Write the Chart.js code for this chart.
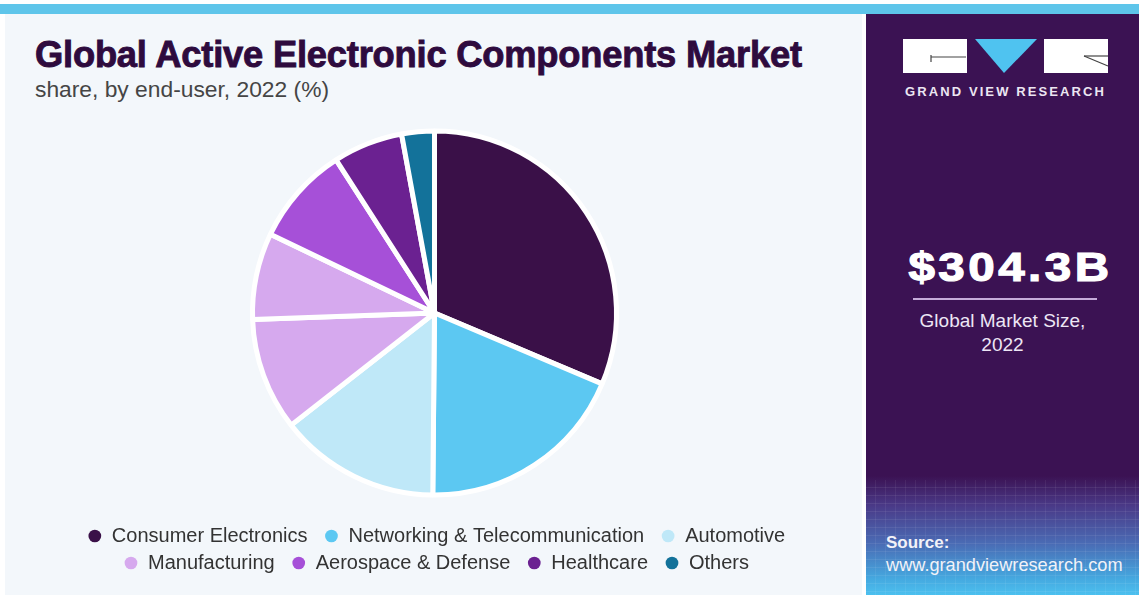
<!DOCTYPE html>
<html>
<head>
<meta charset="utf-8">
<script src="https://cdn.jsdelivr.net/npm/chart.js@4.4.1/dist/chart.umd.min.js"></script>
<style>
  html, body { margin:0; padding:0; width:1139px; height:595px; overflow:hidden; background:#ffffff; font-family:"Liberation Sans", Arial, sans-serif; }
  #topbar { position:absolute; left:0; top:4px; width:1139px; height:10px; background:#5ec5ea; }
  #left { position:absolute; left:5px; top:14px; width:857px; height:581px; background:#f3f7fb; }
  #right { position:absolute; left:866px; top:14px; width:273px; height:581px;
    background:
      repeating-linear-gradient(to bottom, rgba(255,255,255,0) 0, rgba(255,255,255,0) 7px, rgba(255,255,255,0.07) 7px, rgba(255,255,255,0.07) 8px),
      repeating-linear-gradient(to right, rgba(255,255,255,0) 0, rgba(255,255,255,0) 9px, rgba(255,255,255,0.06) 9px, rgba(255,255,255,0.06) 10px);
    background-size: 100% 115px, 100% 115px;
    background-position: 0 466px, 0 466px;
    background-repeat: no-repeat;
  }
  #rightbg { position:absolute; left:866px; top:14px; width:273px; height:581px;
    background: linear-gradient(to bottom, #3b1253 0px, #3b1253 462px, #4a3a88 492px, #4a6cb5 530px, #45a9e0 565px, #4cc0ef 581px); }
  #title { position:absolute; left:35px; top:34px; font-size:36.3px; font-weight:bold; color:#2e0b3e; letter-spacing:-0.2px; -webkit-text-stroke:0.9px #2e0b3e; white-space:nowrap; line-height:42px; }
  #subtitle { position:absolute; left:35px; top:77px; font-size:22.8px; color:#454545; white-space:nowrap; line-height:26px; transform:scaleY(0.95); transform-origin:left top; }
  #chartbox { position:absolute; left:47px; top:107px; width:775px; height:476px; }
  .rt { position:absolute; color:#ffffff; white-space:nowrap; text-align:center; }
  #brand { left:866px; width:273px; top:84px; font-size:13px; font-weight:bold; letter-spacing:2.1px; color:#ece6f2; padding-left:6px; box-sizing:border-box; }
  #big { left:874px; width:273px; top:243px; font-size:41px; font-weight:bold; letter-spacing:3px; -webkit-text-stroke:1.2px #fff; line-height:48px; transform:scaleX(1.16); }
  #rule { position:absolute; left:913px; top:298px; width:184px; height:2px; background:#c5acd9; }
  #gms { left:866px; width:273px; top:309px; font-size:19px; line-height:24px; color:#ede6f5; }
  #src1 { left:886px; top:533px; font-size:17px; font-weight:bold; text-align:left; line-height:20px; color:#f2f2f8; }
  #src2 { left:886px; top:555px; font-size:18.2px; text-align:left; line-height:20px; color:#f2f2f8; }
</style>
</head>
<body>
<div id="topbar"></div>
<div id="left"></div>
<div id="rightbg"></div>
<div id="right"></div>
<svg style="position:absolute;left:0;top:0" width="1139" height="120">
  <rect x="903" y="39" width="64" height="34" fill="#ffffff"/>
  <polygon points="975,39 1037,39 1004,73" fill="#4fc3f0"/>
  <rect x="1044" y="39" width="64" height="34" fill="#ffffff"/>
  <line x1="931" y1="57" x2="966" y2="57" stroke="#444" stroke-width="1.2"/>
  <line x1="931" y1="55" x2="931" y2="62" stroke="#444" stroke-width="1.2"/>
  <line x1="1084" y1="56" x2="1108" y2="56" stroke="#444" stroke-width="1.2"/>
  <line x1="1084" y1="56" x2="1108" y2="66" stroke="#444" stroke-width="1.2"/>
</svg>
<div class="rt" id="brand">GRAND VIEW RESEARCH</div>
<div class="rt" id="big">$304.3B</div>
<div id="rule"></div>
<div class="rt" id="gms">Global Market Size,<br>2022</div>
<div class="rt" id="src1">Source:</div>
<div class="rt" id="src2">www.grandviewresearch.com</div>

<div id="title">Global Active Electronic Components Market</div>
<div id="subtitle">share, by end-user, 2022 (%)</div>
<div id="chartbox"><canvas id="c"></canvas></div>

<script>
// ---- data ----
const categories = [
  "Consumer Electronics",
  "Networking & Telecommunication",
  "Automotive",
  "Manufacturing",
  "Manufacturing",
  "Aerospace & Defense",
  "Healthcare",
  "Others"
];
const shares = [31.4, 18.8, 14.3, 10.0, 7.7, 8.8, 6.2, 2.9];
const sliceColors = ["#3a1048", "#5cc8f2", "#bfe8f8", "#d6a9ee", "#d6a9ee", "#a650d8", "#6b2191", "#13729a"];

const basePieLabels = Chart.overrides.pie.plugins.legend.labels.generateLabels;

// nudge the legend block slightly right (the trailing spacer shifts centering)
const legendNudge = {
  id: 'legendNudge',
  afterLayout(chart) {
    if (chart.legend) { chart.legend.left += 7; chart.legend.right += 7; }
  }
};

new Chart(document.getElementById('c'), {
  type: 'pie',
  data: {
    labels: categories,
    datasets: [{
      data: shares,
      backgroundColor: sliceColors,
      borderColor: '#ffffff',
      borderWidth: 5,
      radius: 182
    }]
  },
  plugins: [legendNudge],
  options: {
    responsive: true,
    maintainAspectRatio: false,
    animation: false,
    layout: { padding: 0 },
    plugins: {
      tooltip: { enabled: false },
      legend: {
        position: 'bottom',
        labels: {
          usePointStyle: true,
          pointStyle: 'circle',
          boxWidth: 14,
          boxHeight: 9,
          padding: 7,
          color: '#333333',
          font: { family: '"Liberation Sans", Arial, sans-serif', size: 20 },
          generateLabels(chart) {
            const items = basePieLabels(chart);
            const seen = new Set();
            return items.filter(it => {
              if (seen.has(it.text)) return false;
              seen.add(it.text);
              return true;
            }).map(it => {
              it.lineWidth = 0;
              it.strokeStyle = 'rgba(0,0,0,0)';
              it.text = it.text + '\u2002';
              return it;
            });
          }
        }
      }
    }
  }
});
</script>
</body>
</html>
